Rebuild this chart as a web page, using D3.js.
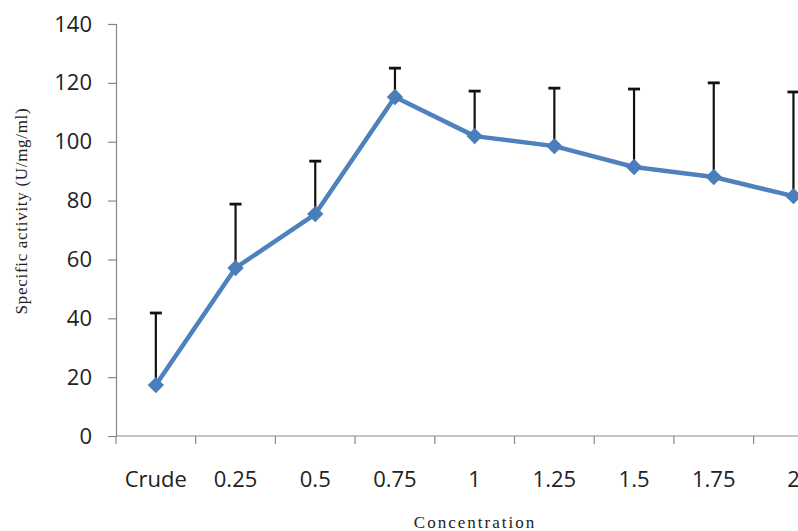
<!DOCTYPE html>
<html>
<head>
<meta charset="utf-8">
<script src="https://cdn.jsdelivr.net/npm/d3@7"></script>
<style>
  body { margin: 0; background: #fff; }
  svg { display: block; }
</style>
</head>
<body>
<svg id="chart"></svg>
<script>
// values
const categories = ["Crude", "0.25", "0.5", "0.75", "1", "1.25", "1.5", "1.75", "2"]
const activity = [17.3, 57.1, 75.4, 115.2, 101.9, 98.5, 91.4, 88.0, 81.5]
const errPlus = [24.5, 21.7, 18.0, 9.8, 15.3, 19.7, 26.5, 32.0, 35.4]
const yTicks = [0, 20, 40, 60, 80, 100, 120, 140]

const width = 798
const height = 531
const plotLeft = 116
const plotTop = 24
const plotBottom = 436
const bandW = 79.7

const tickFont = "'Open Sans', 'Liberation Sans', sans-serif"
const titleFont = "'Liberation Serif', 'DejaVu Serif', serif"

const svg = d3.select("#chart")
  .attr("width", width)
  .attr("height", height)

const x = d3.scaleBand()
  .domain(categories)
  .range([plotLeft, plotLeft + bandW * categories.length])
  .padding(0)

const y = d3.scaleLinear()
  .domain([0, 140])
  .range([plotBottom, plotTop])

// y axis
const yAxis = svg.append("g")
  .attr("transform", `translate(${plotLeft},0)`)
  .call(d3.axisLeft(y).tickValues(yTicks).tickSize(8).tickPadding(16))
yAxis.select(".domain").attr("stroke", "#888").attr("stroke-width", 1.2)
yAxis.selectAll(".tick line").attr("stroke", "#888").attr("stroke-width", 1.2)
yAxis.selectAll(".tick text")
  .attr("fill", "#222")
  .style("font-family", tickFont)
  .style("font-size", "22px")

// x axis, ticks on category boundaries
svg.append("line")
  .attr("x1", plotLeft).attr("x2", width)
  .attr("y1", plotBottom).attr("y2", plotBottom)
  .attr("stroke", "#888").attr("stroke-width", 1.2)

const boundaries = categories.map(c => x(c))
svg.selectAll(".xtick")
  .data(boundaries)
  .join("line")
  .attr("class", "xtick")
  .attr("x1", d => d).attr("x2", d => d)
  .attr("y1", plotBottom).attr("y2", plotBottom + 8)
  .attr("stroke", "#888").attr("stroke-width", 1.2)

svg.selectAll(".xlab")
  .data(categories)
  .join("text")
  .attr("class", "xlab")
  .attr("x", d => x(d) + x.bandwidth() / 2)
  .attr("y", 487)
  .attr("text-anchor", "middle")
  .attr("fill", "#222")
  .style("font-family", tickFont)
  .style("font-size", "22px")
  .text(d => d)

// axis titles
svg.append("text")
  .attr("x", 475)
  .attr("y", 528)
  .attr("text-anchor", "middle")
  .attr("fill", "#222")
  .style("font-family", titleFont)
  .style("font-size", "17px")
  .style("letter-spacing", "2px")
  .text("Concentration")

svg.append("text")
  .attr("transform", "translate(27,211) rotate(-90)")
  .attr("text-anchor", "middle")
  .attr("fill", "#222")
  .style("font-family", titleFont)
  .style("font-size", "17px")
  .style("letter-spacing", "0.7px")
  .text("Specific activity (U/mg/ml)")

const cx = (d, i) => x(categories[i]) + x.bandwidth() / 2

// error bars (plus direction only)
const errs = svg.append("g")
activity.forEach((v, i) => {
  const px = x(categories[i]) + x.bandwidth() / 2
  errs.append("line")
    .attr("x1", px).attr("x2", px)
    .attr("y1", y(v)).attr("y2", y(v + errPlus[i]))
    .attr("stroke", "#111").attr("stroke-width", 2.2)
  errs.append("line")
    .attr("x1", px - 6).attr("x2", px + 6)
    .attr("y1", y(v + errPlus[i])).attr("y2", y(v + errPlus[i]))
    .attr("stroke", "#111").attr("stroke-width", 2.8)
})

// line
const line = d3.line()
  .x(cx)
  .y(d => y(d))
svg.append("path")
  .attr("d", line(activity))
  .attr("fill", "none")
  .attr("stroke", "#4F81BD")
  .attr("stroke-width", 4.5)
  .attr("stroke-linejoin", "round")

// diamond markers
svg.selectAll(".marker")
  .data(activity)
  .join("path")
  .attr("class", "marker")
  .attr("transform", (d, i) => `translate(${cx(d, i)},${y(d)})`)
  .attr("d", d3.symbol().type(d3.symbolDiamond2).size(170))
  .attr("fill", "#4A7EBB")
</script>
</body>
</html>
